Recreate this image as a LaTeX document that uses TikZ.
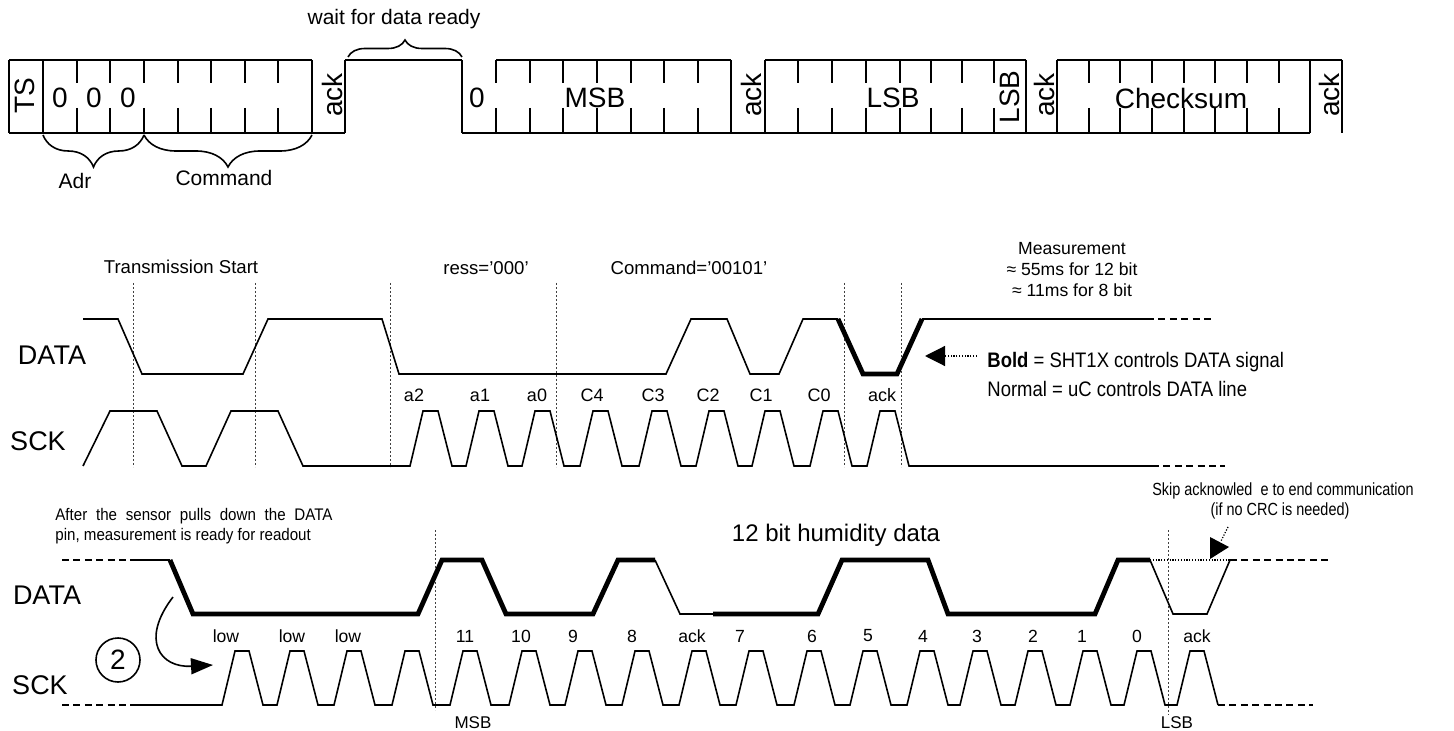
\documentclass[tikz,border=0pt]{standalone}
\usepackage{fontspec}
\setmainfont{Liberation Sans}
\usetikzlibrary{decorations.pathreplacing,arrows.meta}

\tikzset{
    wave/.style={line width=0.8pt},
    boldwave/.style={line width=2.4pt},
    frame/.style={line width=0.9pt},
    guide/.style={line width=0.4pt,black!75,dash pattern=on 1.2pt off 0.8pt},
    tail/.style={line width=0.8pt,dash pattern=on 3.5pt off 2.2pt},
    dots/.style={line width=0.6pt,dash pattern=on 0.6pt off 0.8pt},
    txt/.style={inner sep=0pt,font=\fontsize{#1}{#1}\selectfont},
    brc/.style={decorate,decoration={brace,amplitude=#1},line width=0.8pt}
}

\begin{document}
\begin{tikzpicture}[x=0.5pt,y=-0.5pt]
    \useasboundingbox (0,0) rectangle (1454,731);
    \coordinate (boldtip) at (925,356);
    \coordinate (notestart) at (977,356);
    \coordinate (pulldown) at (173,597);
    \coordinate (firstclk) at (213,665);

    \draw[frame] (9,60) -- (312,60) (345,60) -- (462,60) (496,60) -- (731,60)
        (765,60) -- (1026,60) (1057,60) -- (1342,60);
    \draw[frame] (9,133) -- (345,133) (462,133) -- (1310,133);
    \foreach \x in {9,43,312,345,462,731,765,1026,1057,1310,1342}
        \draw[frame] (\x,60) -- (\x,133);
    \foreach \x in {77,110,144,178,211,245,278,496,530,563,597,631,664,698,798,832,866,900,931,962,994,1089,1120,1152,1184,1215,1247,1279}
        \draw[frame] (\x,60) -- (\x,83) (\x,108) -- (\x,133);
    \draw[brc=8.5pt] (348,57) -- (462,57);
    \draw[brc=16pt] (144,135) -- (43,135);
    \draw[brc=16pt] (312,135) -- (144,135);

    \node[txt=14,rotate=90] (ts) at (25,96) {TS};
    \foreach \x [count=\n] in {60,94,128}
        \node[txt=14] (adr\n) at (\x,98) {0};
    \node[txt=14] (msbzero) at (477,98) {0};
    \node[txt=14] (msb) at (595,98) {MSB};
    \node[txt=14] (lsb) at (893,98) {LSB};
    \node[txt=14,rotate=90] (lsbbit) at (1010,97) {LSB};
    \node[txt=14] (checksum) at (1181,98) {Checksum};
    \foreach \x [count=\n] in {332,751,1044,1329}
        \node[txt=14,rotate=90] (ack\n) at (\x,95) {ack};
    \node[txt=10.5] (wait) at (394,19) {wait for data ready};
    \node[txt=10.5] (adr) at (75,181) {Adr};
    \node[txt=10.5] (command) at (224,178) {Command};

    \node[txt=9.3] (tstart) at (181,267) {Transmission Start};
    \node[txt=9.3] (address) at (486,268) {ress=’000’};
    \node[txt=9.3] (cmdbits) at (689,268) {Command=’00101’};
    \node[txt=8.8,font=\fontsize{8.8}{10.5}\selectfont,align=center] (meas) at (1072,270)
        {Measurement\\≈ 55ms for 12 bit\\≈ 11ms for 8 bit};
    \node[txt=13.5] (data1) at (52,355) {DATA};
    \node[txt=13.5] (sck1) at (38,441) {SCK};
    \foreach \x in {133,255,390,556,844,901}
        \draw[guide] (\x,283) -- (\x,467);

    \draw[wave] (83,319) -- (118,319) -- (142,374) -- (243,374) -- (268,319) -- (382,319) -- (399,374)
        -- (666,374) -- (691,319) -- (727,319) -- (750,374) -- (779,374) -- (803,319) -- (838,319);
    \draw[boldwave] (838,319) -- (863,374) -- (897,374) -- (922,319);
    \draw[wave] (922,319) -- (1147,319);
    \draw[tail] (1147,319) -- (1215,319);
    \draw[wave] (83,466) -- (110,411) -- (157,411) -- (182,466) -- (206,466) -- (231,411) -- (278,411) -- (303,466) -- (410,466)
        \foreach \h in {423,479,535,593,652,709,765,823,880} { -- (\h-13,466) -- (\h,411) -- (\h+15,411) -- (\h+29,466)}
        -- (1152,466);
    \draw[tail] (1152,466) -- (1225,466);
    \foreach \x/\t in {414/a2,480/a1,537/a0,592/C4,653/C3,708/C2,761/C1,819/C0,882/ack}
        \node[txt=9] (m\t) at (\x,395) {\t};

    \draw[dots,-{Triangle[length=10pt,width=10pt]}] (notestart) -- (boldtip);
    \node[txt=10.5,anchor=base west] (boldnote) at (987,368)
        {\scalebox{0.88}[1]{\textbf{Bold} = SHT1X controls DATA signal}};
    \node[txt=10.5,anchor=base west] (normalnote) at (987,397)
        {\scalebox{0.88}[1]{Normal = uC controls DATA line}};

    \node[txt=8.4,anchor=base west] (after1) at (55,520)
        {\scalebox{0.9}[1]{\makebox[154pt][s]{After the sensor pulls down the DATA}}};
    \node[txt=8.4,anchor=base west] (after2) at (55,540)
        {\scalebox{0.9}[1]{pin, measurement is ready for readout}};
    \node[txt=12] (humidity) at (836,535) {12 bit humidity data};
    \node[txt=8.8,anchor=base] (skip1) at (1283,495)
        {\scalebox{0.82}[1]{Skip acknowled\hphantom{g}e to end communication}};
    \node[txt=8.8,anchor=base] (skip2) at (1280,515)
        {\scalebox{0.82}[1]{(if no CRC is needed)}};
    \node[txt=13.5] (data2) at (47,595) {DATA};
    \node[txt=13.5] (sck2) at (40,685) {SCK};
    \node[txt=14,circle,draw,line width=0.8pt,minimum size=22pt] (two) at (118,660) {2};
    \draw[guide] (435,530) -- (435,710);
    \draw[guide] (1168,530) -- (1168,715);

    \draw[tail] (62,560) -- (135,560);
    \draw[wave] (135,560) -- (170,560);
    \draw[boldwave] (170,560) -- (193,614) -- (418,614) -- (442,560) -- (482,560) -- (506,614) -- (593,614)
        -- (618,560) -- (655,560);
    \draw[wave] (655,560) -- (680,614) -- (713,614);
    \draw[boldwave] (713,614) -- (818,614) -- (842,560) -- (928,560) -- (948,614) -- (1095,614) -- (1118,560)
        -- (1150,560);
    \draw[wave] (1150,560) -- (1173,614) -- (1207,614) -- (1230,560);
    \draw[dots] (1150,560) -- (1230,560);
    \draw[tail] (1230,560) -- (1328,560);
    \fill (1210,537) -- (1229,547) -- (1210,559) -- cycle;
    \draw[dots] (1228,527) -- (1221,541);

    \draw[tail] (62,705) -- (135,705);
    \draw[wave] (135,705) -- (222,705)
        \foreach \h in {235,290,347,405,463,522,578,635,692,749,807,863,920,973,1028,1083,1137,1190}
        { -- (\h-13,705) -- (\h,651) -- (\h+14,651) -- (\h+28,705)};
    \draw[tail] (1218,705) -- (1313,705);
    \draw[wave,-{Triangle[length=11pt,width=8pt]}] (pulldown) .. controls (140,640) and (160,668) .. (firstclk);
    \foreach \x/\t [count=\n] in {226/low,292/low,348/low,465/11,521/10,573/9,632/8,692/ack,740/7,812/6,868/5,923/4,977/3,1033/2,1082/1,1137/0,1197/ack}
        \node[txt=8.8] (bit\n) at (\x,636) {\t};
    \node[txt=8.5] (msbmark) at (473,723) {MSB};
    \node[txt=8.5] (lsbmark) at (1177,723) {LSB};
\end{tikzpicture}
\end{document}
